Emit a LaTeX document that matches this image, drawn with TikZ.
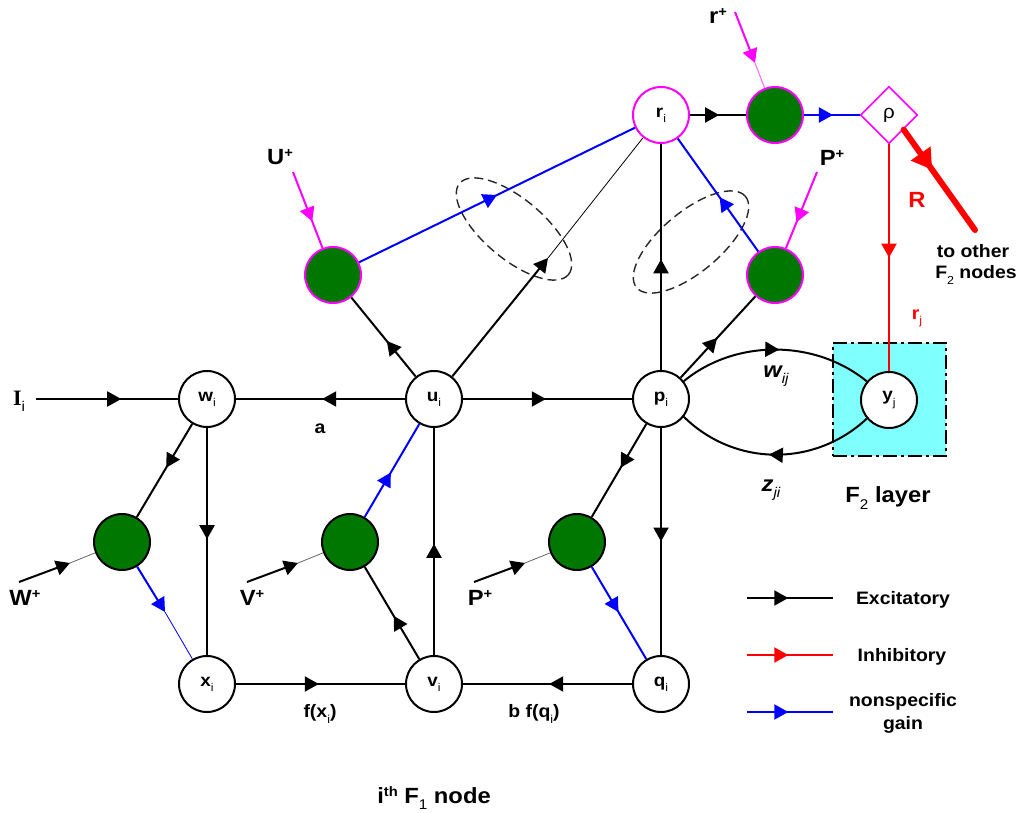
\documentclass[tikz,border=0pt]{standalone}
\usepackage{fontspec}
\setmainfont[FakeStretch=1.08]{Liberation Sans}
\newfontfamily\serifI{Liberation Serif}
\usetikzlibrary{arrows.meta,decorations.markings,shapes.geometric}
\definecolor{gategreen}{HTML}{007700}
\definecolor{boxcyan}{HTML}{80FFFF}
\definecolor{gainpink}{HTML}{FF00FF}
\newcommand{\dn}[1]{\raisebox{-.55ex}{\fontsize{\the\dimexpr.64\fontdimen6\font\relax}{0pt}\selectfont\mdseries #1}}
\newcommand{\upp}[1]{\raisebox{.62ex}{\fontsize{\the\dimexpr.62\fontdimen6\font\relax}{0pt}\selectfont #1}}
\tikzset{
  cell/.style={circle,draw=black,fill=white,line width=2pt,minimum size=56pt,inner sep=0pt,font=\fontsize{17.5}{18}\selectfont\bfseries},
  rcell/.style={cell,draw=gainpink},
  gate/.style={circle,draw=black,fill=gategreen,line width=2pt,minimum size=56pt,inner sep=0pt},
  mgate/.style={gate,draw=gainpink},
  lab/.style={font=\fontsize{18}{20}\selectfont\bfseries,inner sep=0pt},
  biglab/.style={font=\fontsize{22}{24}\selectfont\bfseries,inner sep=0pt},
  conn/.style={line width=2pt},
  arr/.style={postaction={decorate},decoration={markings,mark=at position #1 with {\arrow{Triangle[length=14pt,width=15pt]}}}},
  endtip/.style={-{Triangle[length=14pt,width=15pt]}},
  ell/.style={ellipse,draw=black!85,dash pattern=on 9pt off 5pt,line width=1.4pt,inner sep=0pt,minimum width=142pt,minimum height=60pt}
}
\begin{document}
\begin{tikzpicture}[x=1pt,y=-1pt]
  \useasboundingbox (0,0) rectangle (1020,813);
  \node[draw=black,fill=boxcyan,line width=2pt,dash pattern=on 14pt off 4pt on 3pt off 4pt,minimum size=113pt,inner sep=0pt] (f2box) at (889.5,399.5) {};
  % F1 cells
  \node[cell] (wi) at (207,399) {w\dn{i}};
  \node[cell] (ui) at (434,399) {u\dn{i}};
  \node[cell] (pi) at (661,399) {p\dn{i}};
  \node[cell] (xi) at (207,684) {x\dn{i}};
  \node[cell] (vi) at (434,684) {v\dn{i}};
  \node[cell] (qi) at (661,684) {q\dn{i}};
  \node[rcell] (ri) at (661,115) {r\dn{i}};
  \node[cell] (yj) at (889,400) {y\dn{j}};
  \node[diamond,draw=gainpink,fill=white,line width=1.6pt,minimum width=57pt,minimum height=57pt,inner sep=0pt,aspect=1,font=\fontsize{19}{20}\selectfont] (rho) at (889,115) {ρ};
  % gain gates
  \node[gate] (gw) at (122,542) {};
  \node[gate] (gv) at (350,542) {};
  \node[gate] (gq) at (577,542) {};
  \node[mgate] (gu) at (333,275) {};
  \node[mgate] (gp) at (775,275) {};
  \node[mgate] (gr) at (775,115) {};
  % dashed groups
  \node[ell,rotate=-40] (ellu) at (514,229) {};
  \node[ell,rotate=40] (ellp) at (691,242) {};
  % free ends
  \coordinate (Iin) at (36,399);
  \coordinate (Win) at (19,582);
  \coordinate (Wtip) at (70,563);
  \coordinate (Vin) at (247,582);
  \coordinate (Vtip) at (298,563);
  \coordinate (Pin) at (474,582);
  \coordinate (Ptip) at (525,563);
  \coordinate (Uin) at (293,172);
  \coordinate (Pbin) at (817,172);
  \coordinate (rin) at (735,12);
  \coordinate (rtip) at (755,63);
  \coordinate (urtip) at (548,258);
  \coordinate (xtip) at (165,612);
  \coordinate (other) at (975,230);
  % black connectors
  \draw[conn,arr=.6] (Iin) -- (wi);
  \draw[conn,arr=.49] (ui) -- (wi);
  \draw[conn,arr=.49] (ui) -- (pi);
  \draw[conn,arr=.47] (wi) -- (gw);
  \draw[conn,arr=.49] (wi) -- (xi);
  \draw[conn,arr=.47] (vi) -- (gv);
  \draw[conn,arr=.49] (vi) -- (ui);
  \draw[conn,arr=.49] (xi) -- (vi);
  \draw[conn,arr=.49] (qi) -- (vi);
  \draw[conn,arr=.5] (pi) -- (qi);
  \draw[conn,arr=.47] (pi) -- (gq);
  \draw[conn,arr=.45] (ui) -- (gu);
  \draw[conn,arr=.49] (pi) -- (ri);
  \draw[conn,arr=.49] (pi) -- (gp);
  \draw[conn,arr=.52] (ri) -- (gr);
  \draw[conn,endtip] (ui) -- (urtip);
  \draw[line width=.8pt] (urtip) -- (ri);
  % inputs
  \draw[conn,endtip] (Win) -- (Wtip);
  \draw[black!60,line width=.8pt] (Wtip) -- (gw);
  \draw[conn,endtip] (Vin) -- (Vtip);
  \draw[black!60,line width=.8pt] (Vtip) -- (gv);
  \draw[conn,endtip] (Pin) -- (Ptip);
  \draw[black!60,line width=.8pt] (Ptip) -- (gq);
  \draw[conn,gainpink,arr=.65] (Uin) -- (gu);
  \draw[conn,gainpink,arr=.66] (Pbin) -- (gp);
  \draw[conn,gainpink,endtip] (rin) -- (rtip);
  \draw[gainpink!60,line width=1pt] (rtip) -- (gr);
  % blue gain
  \draw[conn,blue,arr=.48] (gv) -- (ui);
  \draw[conn,blue,arr=.49] (gq) -- (qi);
  \draw[conn,blue,arr=.5] (gu) -- (ri);
  \draw[conn,blue,arr=.48] (gp) -- (ri);
  \draw[conn,blue,arr=.52] (gr) -- (rho);
  \draw[conn,blue,endtip] (gw) -- (xtip);
  \draw[blue,line width=.8pt] (xtip) -- (xi);
  % red
  \draw[conn,red,arr=.5] (rho) -- (yj);
  \draw[red,line width=6pt,line cap=round,postaction={decorate},decoration={markings,mark=at position .4 with {\arrow{Triangle[length=20pt,width=23pt]}}}] (rho.-45) -- (other);
  % weights
  \draw[conn,arr=.52] (pi.38) .. controls (735,339) and (815,339) .. (yj.140);
  \draw[conn,arr=.53] (yj.-140) .. controls (815,467) and (735,467) .. (pi.-38);
  % labels
  \node[lab] (la) at (320,429) {a};
  \node[lab] (lfx) at (320,714) {f(x\dn{i})};
  \node[lab] (lfq) at (534,714) {b f(q\dn{i})};
  \node[biglab] (lwij) at (776,376) {\itshape w\dn{\itshape ij}};
  \node[biglab] (lzji) at (771,490) {\itshape z\dn{\itshape ji}};
  \node[biglab] (lf2) at (888,498) {F\dn{2} layer};
  \node[lab,red] (lrj) at (917,318) {r\dn{j}};
  \node[biglab,red] (lR) at (917,200) {R};
  \node[lab] (lto) at (973,251) {to other};
  \node[lab] (lf2n) at (976,275) {F\dn{2} nodes};
  \node[biglab] (lI) at (19,401) {{\serifI I}\dn{i}};
  \node[biglab] (lW) at (25,598) {W\upp{+}};
  \node[biglab] (lV) at (252,598) {V\upp{+}};
  \node[biglab] (lP) at (480,598) {P\upp{+}};
  \node[biglab] (lU) at (280,157) {U\upp{+}};
  \node[biglab] (lPb) at (832,158) {P\upp{+}};
  \node[biglab] (lr) at (718,16) {r\upp{+}};
  \node[biglab] (lF1) at (434,798) {i\upp{th} F\dn{1} node};
  % legend
  \coordinate (ea) at (747,598);
  \coordinate (eb) at (833,598);
  \coordinate (ia) at (747,655);
  \coordinate (ib) at (833,655);
  \coordinate (na) at (747,712);
  \coordinate (nb) at (833,712);
  \draw[conn,arr=.48] (ea) -- (eb);
  \draw[conn,red,arr=.48] (ia) -- (ib);
  \draw[conn,blue,arr=.48] (na) -- (nb);
  \node[lab] (lexc) at (903,600) {Excitatory};
  \node[lab] (linh) at (902,657) {Inhibitory};
  \node[lab] (lnon) at (903,702) {nonspecific};
  \node[lab] (lgain) at (903,725) {gain};
\end{tikzpicture}
\end{document}
